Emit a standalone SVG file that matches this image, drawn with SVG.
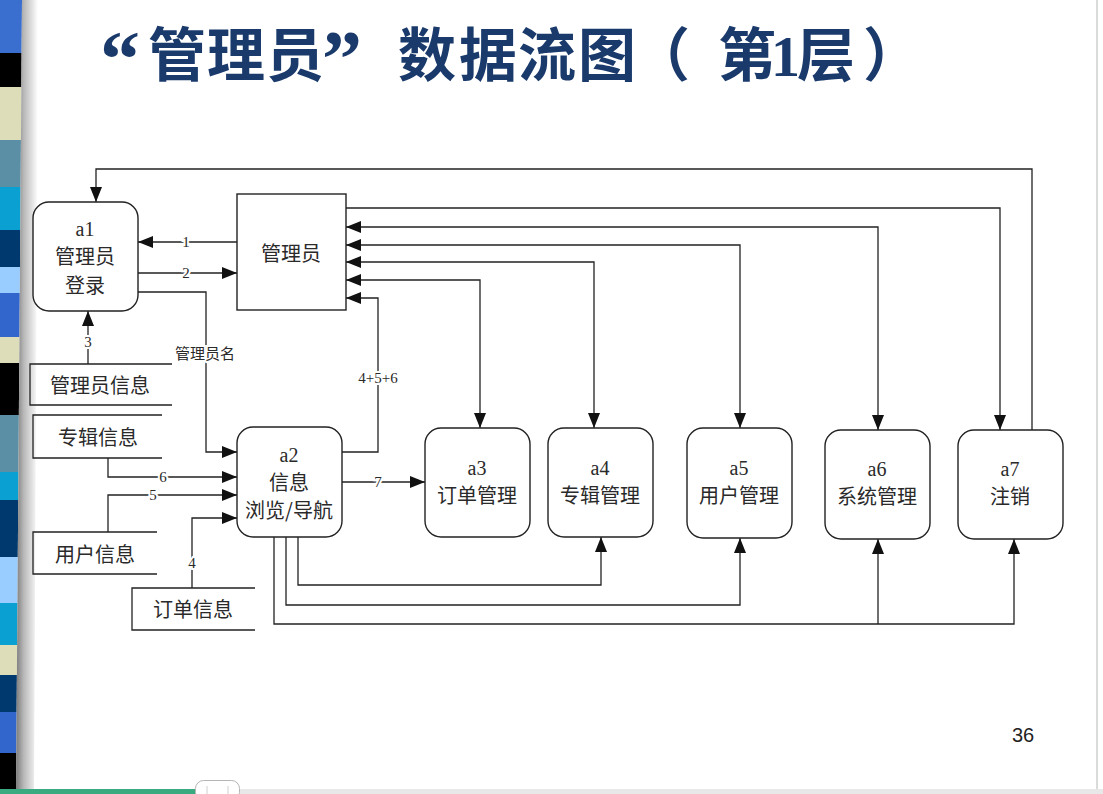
<svg xmlns="http://www.w3.org/2000/svg" width="1103" height="794" viewBox="0 0 1103 794">
<defs>
<linearGradient id="shade" x1="0" y1="0" x2="1" y2="0">
<stop offset="0" stop-color="#7a7a7a"/>
<stop offset="0.35" stop-color="#b8b8b8"/>
<stop offset="1" stop-color="#ffffff"/>
</linearGradient>
<clipPath id="stripeClip"><polygon points="0,0 22,0 16,794 0,794"/></clipPath>
<marker id="ah" markerUnits="userSpaceOnUse" markerWidth="16" markerHeight="14" refX="15" refY="6" orient="auto-start-reverse">
<path d="M0,0 L15,6 L0,12 z" fill="#111"/>
</marker>
</defs>
<style>
.ln{fill:none;stroke:#222;stroke-width:1.3}
.ar{fill:none;stroke:#222;stroke-width:1.3;marker-end:url(#ah)}
.ar2{fill:none;stroke:#222;stroke-width:1.3;marker-end:url(#ah);marker-start:url(#ah)}
.box{fill:#fff;stroke:#222;stroke-width:1.4}
.cn{font-family:"Noto Sans CJK SC","Liberation Serif",sans-serif;font-size:20px;fill:#2a2a2a;text-anchor:middle;dominant-baseline:central}
.lat{font-family:"Liberation Serif",serif;font-size:20px;fill:#2a2a2a;text-anchor:middle;dominant-baseline:central}
.lbl{font-family:"Liberation Serif","Noto Sans CJK SC",serif;font-size:15px;fill:#2a2a2a;text-anchor:middle;dominant-baseline:central;stroke:#fff;stroke-width:4px;paint-order:stroke}
.lblc{font-family:"Noto Sans CJK SC",sans-serif;font-size:15px;fill:#2a2a2a;text-anchor:middle;dominant-baseline:central;stroke:#fff;stroke-width:4px;paint-order:stroke}
</style>
<rect width="1103" height="794" fill="#fff"/>
<!-- left decorative stripes -->
<g id="stripes" clip-path="url(#stripeClip)">
<rect x="0" y="0" width="24" height="53" fill="#3a6fd0"/>
<rect x="0" y="53" width="24" height="34" fill="#000"/>
<rect x="0" y="87" width="24" height="53" fill="#deddb9"/>
<rect x="0" y="140" width="24" height="47" fill="#5b8fa6"/>
<rect x="0" y="187" width="24" height="43" fill="#0aa0d2"/>
<rect x="0" y="230" width="24" height="37" fill="#00396e"/>
<rect x="0" y="267" width="24" height="26" fill="#99ccff"/>
<rect x="0" y="293" width="24" height="44" fill="#3366cc"/>
<rect x="0" y="337" width="24" height="26" fill="#deddb9"/>
<rect x="0" y="363" width="24" height="52" fill="#000"/>
<rect x="0" y="415" width="24" height="57" fill="#5b8fa6"/>
<rect x="0" y="472" width="24" height="28" fill="#0aa0d2"/>
<rect x="0" y="500" width="24" height="57" fill="#00396e"/>
<rect x="0" y="557" width="24" height="46" fill="#99ccff"/>
<rect x="0" y="603" width="24" height="42" fill="#0aa0d2"/>
<rect x="0" y="645" width="24" height="30" fill="#deddb9"/>
<rect x="0" y="675" width="24" height="37" fill="#00396e"/>
<rect x="0" y="712" width="24" height="41" fill="#3366cc"/>
<rect x="0" y="753" width="24" height="41" fill="#000"/>
</g>
<polygon points="22,0 38,0 34,794 16,794" fill="url(#shade)"/>
<line x1="1097" y1="0" x2="1097" y2="789" stroke="#cfcfcf" stroke-width="1.5"/>
<!-- bottom bar -->
<rect x="0" y="789" width="196" height="5" fill="#3aaa80"/>
<rect x="239" y="789" width="864" height="5" fill="#e8e8e8"/>
<rect x="195.5" y="780.5" width="44" height="20" rx="8" fill="#fff" stroke="#b5b5b5"/>
<line x1="207" y1="786" x2="207" y2="794" stroke="#d0d0d0"/>
<line x1="228" y1="786" x2="228" y2="794" stroke="#d0d0d0"/>
<!-- title -->
<text y="76" font-family="'Liberation Serif','Noto Sans CJK SC',serif" font-weight="bold" font-size="58" fill="#1a3a6c"><tspan x="100" y="86" font-size="80">“</tspan><tspan x="148 207 266" y="76">管理员</tspan><tspan x="322" y="86" font-size="80">”</tspan><tspan x="398 459 518 578 632 718 771 797 863" y="76">数据流图（第1层）</tspan></text>
<text x="1023" y="735" font-family="'Liberation Sans',sans-serif" font-size="20" fill="#222" text-anchor="middle" dominant-baseline="central">36</text>
<!-- connectors -->
<g id="connectors">
<path class="ar" d="M237,242 H138"/>
<path class="ar" d="M138,273 H237"/>
<path class="ar" d="M88,364 V311"/>
<path class="ar" d="M138,292 H206 V452 H237"/>
<path class="ar" d="M108,458 V477 H237"/>
<path class="ar" d="M108,532 V495 H237"/>
<path class="ar" d="M192,588 V518 H237"/>
<path class="ar" d="M342,482 H425"/>
<path class="ar" d="M342,452 H378 V298 H346"/>
<path class="ar2" d="M346,280 H480 V428"/>
<path class="ar2" d="M346,262 H594 V428"/>
<path class="ar2" d="M346,245 H740 V428"/>
<path class="ar2" d="M346,227 H878 V430"/>
<path class="ar" d="M346,208 H1000 V430"/>
<path class="ar" d="M1032,430 V169 H96 V202"/>
<path class="ar" d="M298,537 V585 H601 V537"/>
<path class="ar" d="M286,537 V605 H740 V538"/>
<path class="ar" d="M274,537 V624 H1014 V539"/>
<path class="ar" d="M878,624 V539"/>
<text class="lbl" x="186" y="242">1</text>
<text class="lbl" x="186" y="273">2</text>
<text class="lbl" x="88" y="342">3</text>
<text class="lblc" x="205" y="352">管理员名</text>
<text class="lbl" x="163" y="477">6</text>
<text class="lbl" x="153" y="495">5</text>
<text class="lbl" x="192" y="563">4</text>
<text class="lbl" x="378" y="482">7</text>
<text class="lbl" x="378" y="378" font-size="16">4+5+6</text>
</g>
<!-- nodes -->
<g id="a1">
<rect class="box" x="33" y="202" width="105" height="109" rx="16"/>
<text class="lat" x="85" y="229">a1</text>
<text class="cn" x="85" y="255" font-size="19">管理员</text>
<text class="cn" x="85" y="284" font-size="19">登录</text>
</g>
<g id="admin">
<rect class="box" x="237" y="194" width="109" height="116" rx="0"/>
<text class="cn" x="291" y="252">管理员</text>
</g>
<g id="store-admin">
<path class="ln" d="M172,364 H30 V405 H172"/>
<text class="cn" x="100" y="384">管理员信息</text>
</g>
<g id="store-album">
<path class="ln" d="M162,415 H33 V458 H162"/>
<text class="cn" x="98" y="436">专辑信息</text>
</g>
<g id="store-user">
<path class="ln" d="M157,532 H33 V574 H157"/>
<text class="cn" x="95" y="553">用户信息</text>
</g>
<g id="store-order">
<path class="ln" d="M255,588 H132 V630 H255"/>
<text class="cn" x="193" y="608">订单信息</text>
</g>
<g id="a2">
<rect class="box" x="237" y="427" width="105" height="110" rx="16"/>
<text class="lat" x="289" y="455">a2</text>
<text class="cn" x="289" y="481" font-size="19">信息</text>
<text class="cn" x="289" y="509" font-size="16">浏览/导航</text>
</g>
<g id="a3">
<rect class="box" x="425" y="428" width="105" height="109" rx="16"/>
<text class="lat" x="477" y="468">a3</text>
<text class="cn" x="477" y="494">订单管理</text>
</g>
<g id="a4">
<rect class="box" x="548" y="428" width="105" height="109" rx="16"/>
<text class="lat" x="600" y="468">a4</text>
<text class="cn" x="600" y="494">专辑管理</text>
</g>
<g id="a5">
<rect class="box" x="687" y="428" width="105" height="110" rx="16"/>
<text class="lat" x="739" y="468">a5</text>
<text class="cn" x="739" y="494">用户管理</text>
</g>
<g id="a6">
<rect class="box" x="825" y="430" width="105" height="109" rx="16"/>
<text class="lat" x="877" y="469">a6</text>
<text class="cn" x="877" y="495">系统管理</text>
</g>
<g id="a7">
<rect class="box" x="958" y="430" width="105" height="109" rx="16"/>
<text class="lat" x="1010" y="469">a7</text>
<text class="cn" x="1010" y="495">注销</text>
</g>
</svg>
